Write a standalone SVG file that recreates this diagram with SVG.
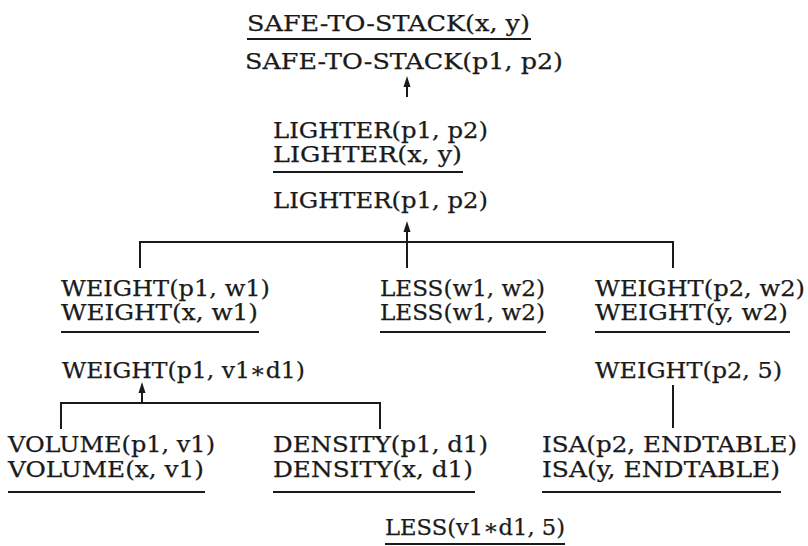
<svg xmlns="http://www.w3.org/2000/svg" width="808" height="546" viewBox="0 0 808 546">
<style>
text{font-family:"DejaVu Serif","Liberation Serif",serif;font-size:22px;fill:#1a1a1a;stroke:#1a1a1a;stroke-width:0.25}
.u{stroke:#1a1a1a;stroke-width:2}
.c{stroke:#1a1a1a;stroke-width:2;fill:none}
.ah{fill:#1a1a1a}
</style>
<rect width="808" height="546" fill="#fff"/>
<g id="connectors">
<path class="c" d="M407,97 V82"/>
<path class="ah" d="M403.5,87 L407,76 L410.5,87 Z"/>
<path class="c" d="M407,268 V226"/>
<path class="ah" d="M403.5,232 L407,221 L410.5,232 Z"/>
<path class="c" d="M140,268 V242 H673 V268"/>
<path class="c" d="M142,403 V386"/>
<path class="ah" d="M138.5,393 L142,382 L145.5,393 Z"/>
<path class="c" d="M61,429 V403 H380 V429"/>
<path class="c" d="M673,385 V428"/>
</g>
<g id="n1">
<text x="247" y="31" textLength="283" lengthAdjust="spacingAndGlyphs">SAFE-TO-STACK(x, y)</text>
<line class="u" x1="247" y1="39" x2="531" y2="39"/>
</g>
<g id="n2">
<text x="245" y="69" textLength="318" lengthAdjust="spacingAndGlyphs">SAFE-TO-STACK(p1, p2)</text>
</g>
<g id="n3">
<text x="273" y="138" textLength="215" lengthAdjust="spacingAndGlyphs">LIGHTER(p1, p2)</text>
<text x="273" y="162" textLength="189" lengthAdjust="spacingAndGlyphs">LIGHTER(x, y)</text>
<line class="u" x1="273" y1="172" x2="463" y2="172"/>
</g>
<g id="n4">
<text x="273" y="208" textLength="215" lengthAdjust="spacingAndGlyphs">LIGHTER(p1, p2)</text>
</g>
<g id="n5">
<text x="61" y="296" textLength="209" lengthAdjust="spacingAndGlyphs">WEIGHT(p1, w1)</text>
<text x="61" y="320" textLength="197" lengthAdjust="spacingAndGlyphs">WEIGHT(x, w1)</text>
<line class="u" x1="61" y1="332" x2="259" y2="332"/>
</g>
<g id="n6">
<text x="380" y="296" textLength="165" lengthAdjust="spacingAndGlyphs">LESS(w1, w2)</text>
<text x="380" y="320" textLength="165" lengthAdjust="spacingAndGlyphs">LESS(w1, w2)</text>
<line class="u" x1="380" y1="332" x2="546" y2="332"/>
</g>
<g id="n7">
<text x="595" y="296" textLength="210" lengthAdjust="spacingAndGlyphs">WEIGHT(p2, w2)</text>
<text x="595" y="320" textLength="193" lengthAdjust="spacingAndGlyphs">WEIGHT(y, w2)</text>
<line class="u" x1="595" y1="332" x2="790" y2="332"/>
</g>
<g id="n8">
<text x="62" y="378" textLength="243" lengthAdjust="spacingAndGlyphs">WEIGHT(p1, v1∗d1)</text>
</g>
<g id="n9">
<text x="595" y="378" textLength="187" lengthAdjust="spacingAndGlyphs">WEIGHT(p2, 5)</text>
</g>
<g id="n10">
<text x="8" y="452" textLength="207" lengthAdjust="spacingAndGlyphs">VOLUME(p1, v1)</text>
<text x="8" y="477" textLength="196" lengthAdjust="spacingAndGlyphs">VOLUME(x, v1)</text>
<line class="u" x1="8" y1="492" x2="205" y2="492"/>
</g>
<g id="n11">
<text x="273" y="452" textLength="215" lengthAdjust="spacingAndGlyphs">DENSITY(p1, d1)</text>
<text x="273" y="477" textLength="200" lengthAdjust="spacingAndGlyphs">DENSITY(x, d1)</text>
<line class="u" x1="273" y1="492" x2="475" y2="492"/>
</g>
<g id="n12">
<text x="542" y="452" textLength="255" lengthAdjust="spacingAndGlyphs">ISA(p2, ENDTABLE)</text>
<text x="542" y="477" textLength="238" lengthAdjust="spacingAndGlyphs">ISA(y, ENDTABLE)</text>
<line class="u" x1="542" y1="492" x2="781" y2="492"/>
</g>
<g id="n13">
<text x="385" y="535" textLength="180" lengthAdjust="spacingAndGlyphs">LESS(v1∗d1, 5)</text>
<line class="u" x1="385" y1="544" x2="565" y2="544"/>
</g>
</svg>
